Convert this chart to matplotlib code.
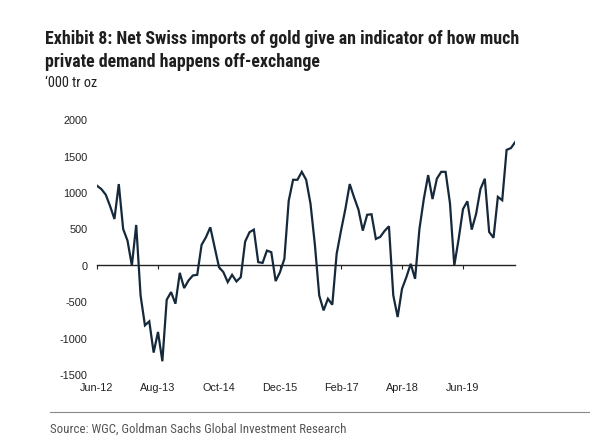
import matplotlib
matplotlib.use("Agg")
import matplotlib.pyplot as plt
import numpy as np
from matplotlib.lines import Line2D
from matplotlib import font_manager as fm

# ---- data ----
net_imports = [
    1087, 1041, 965, 808, 630, 1110, 493, 333, -9, 548,
    -420, -831, -777, -1206, -922, -1325, -480, -374, -534, -110,
    -319, -215, -146, -137, 274, 379, 516, 242, -32, -100,
    -237, -137, -228, -169, 320, 448, 484, 37, 27, 196,
    174, -223, -100, 82, 881, 1169, 1169, 1278, 1169, 840,
    280, -420, -626, -466, -548, 151, 470, 767, 1110, 927,
    760, 470, 688, 695, 356, 384, 466, 530, -420, -717,
    -329, -169, 14, -192, 493, 904, 1233, 904, 1185, 1278,
    1278, 850, -9, 356, 767, 874, 484, 699, 1041, 1183,
    452, 372, 934, 888, 1579, 1605, 1689,
]
tick_labels = ["Jun-12", "Aug-13", "Oct-14", "Dec-15", "Feb-17", "Apr-18", "Jun-19"]
tick_step = 14
y_ticks = [-1500, -1000, -500, 0, 500, 1000, 1500, 2000]

title_lines = ["Exhibit 8: Net Swiss imports of gold give an indicator of how much",
               "private demand happens off-exchange"]
subtitle = "\u2018000 tr oz"
source = "Source: WGC, Goldman Sachs Global Investment Research"

# ---- font choice: a narrow / condensed sans if available ----
entries = fm.fontManager.ttflist
names = {f.name for f in entries}
narrow_family, narrow_stretch = "DejaVu Sans", "normal"
for cand in ["Liberation Sans Narrow", "Arial Narrow", "Roboto Condensed",
             "Open Sans Condensed", "Noto Sans Condensed", "DejaVu Sans Condensed"]:
    if cand in names:
        narrow_family = cand
        break
else:
    cond = [f for f in entries if str(f.stretch) in ("condensed", "semi-condensed", "extra-condensed")]
    if cond:
        narrow_family = cond[0].name
        narrow_stretch = str(cond[0].stretch)
narrow = [narrow_family, "DejaVu Sans"]
regular = ["Liberation Sans", "DejaVu Sans"]

# ---- figure ----
W, H = 590, 439
fig = plt.figure(figsize=(W / 100, H / 100), dpi=100)
fig.patch.set_facecolor("white")


def fx(px):
    return px / W


def fy(py):
    return 1 - py / H


left, right = 97, 515.3
top, bottom = 120.3, 375
ax = fig.add_axes([fx(left), fy(bottom), fx(right - left), (bottom - top) / H])

x = np.arange(len(net_imports))
ax.plot(x, net_imports, color="#15293b", lw=1.6, solid_joinstyle="miter", zorder=3)

ax.set_xlim(0, len(net_imports) - 1)
ax.set_ylim(-1500, 2000)

for s in ["top", "right", "left"]:
    ax.spines[s].set_visible(False)
ax.spines["bottom"].set_position(("data", 0))
ax.spines["bottom"].set_color("#222222")
ax.spines["bottom"].set_linewidth(1.0)

ax.set_yticks(y_ticks)
ax.set_yticklabels([str(v) for v in y_ticks], fontfamily=regular, fontsize=7.8, color="#222222")
ax.tick_params(axis="y", length=0, pad=7)

xt = np.arange(0, len(net_imports), tick_step)[: len(tick_labels)]
ax.set_xticks(xt)
ax.set_xticklabels(tick_labels, fontfamily=regular, fontsize=7.8, color="#222222")
pad_pts = (bottom - 266 + 4) * 0.72
ax.tick_params(axis="x", direction="out", length=3, width=0.8, color="#222222", pad=pad_pts)

# ---- texts ----
renderer = fig.canvas.get_renderer()


def fit_text(xp, yp, s, target_w, base_fs, **kw):
    t = fig.text(fx(xp), fy(yp), s, fontfamily=narrow, fontstretch=narrow_stretch,
                 fontsize=base_fs, va="center", ha="left", **kw)
    w = t.get_window_extent(renderer).width
    if w > 0:
        t.set_fontsize(base_fs * target_w / w)
    return t


t1 = fit_text(45, 39, title_lines[0], 472, 12.8, fontweight="bold", color="#1e1e1e")
fs_title = t1.get_fontsize()
fig.text(fx(45), fy(62.3), title_lines[1], fontfamily=narrow, fontstretch=narrow_stretch,
         fontsize=fs_title, fontweight="bold", color="#1e1e1e", va="center", ha="left")
fit_text(45, 83, subtitle, 52, 10.2, color="#1e1e1e")
fit_text(50, 429.5, source, 297, 9, color="#555555")
fig.add_artist(Line2D([fx(50), fx(590)], [fy(413), fy(413)], color="#888888", lw=0.8))

fig.savefig("out.png", dpi=100, facecolor="white")
